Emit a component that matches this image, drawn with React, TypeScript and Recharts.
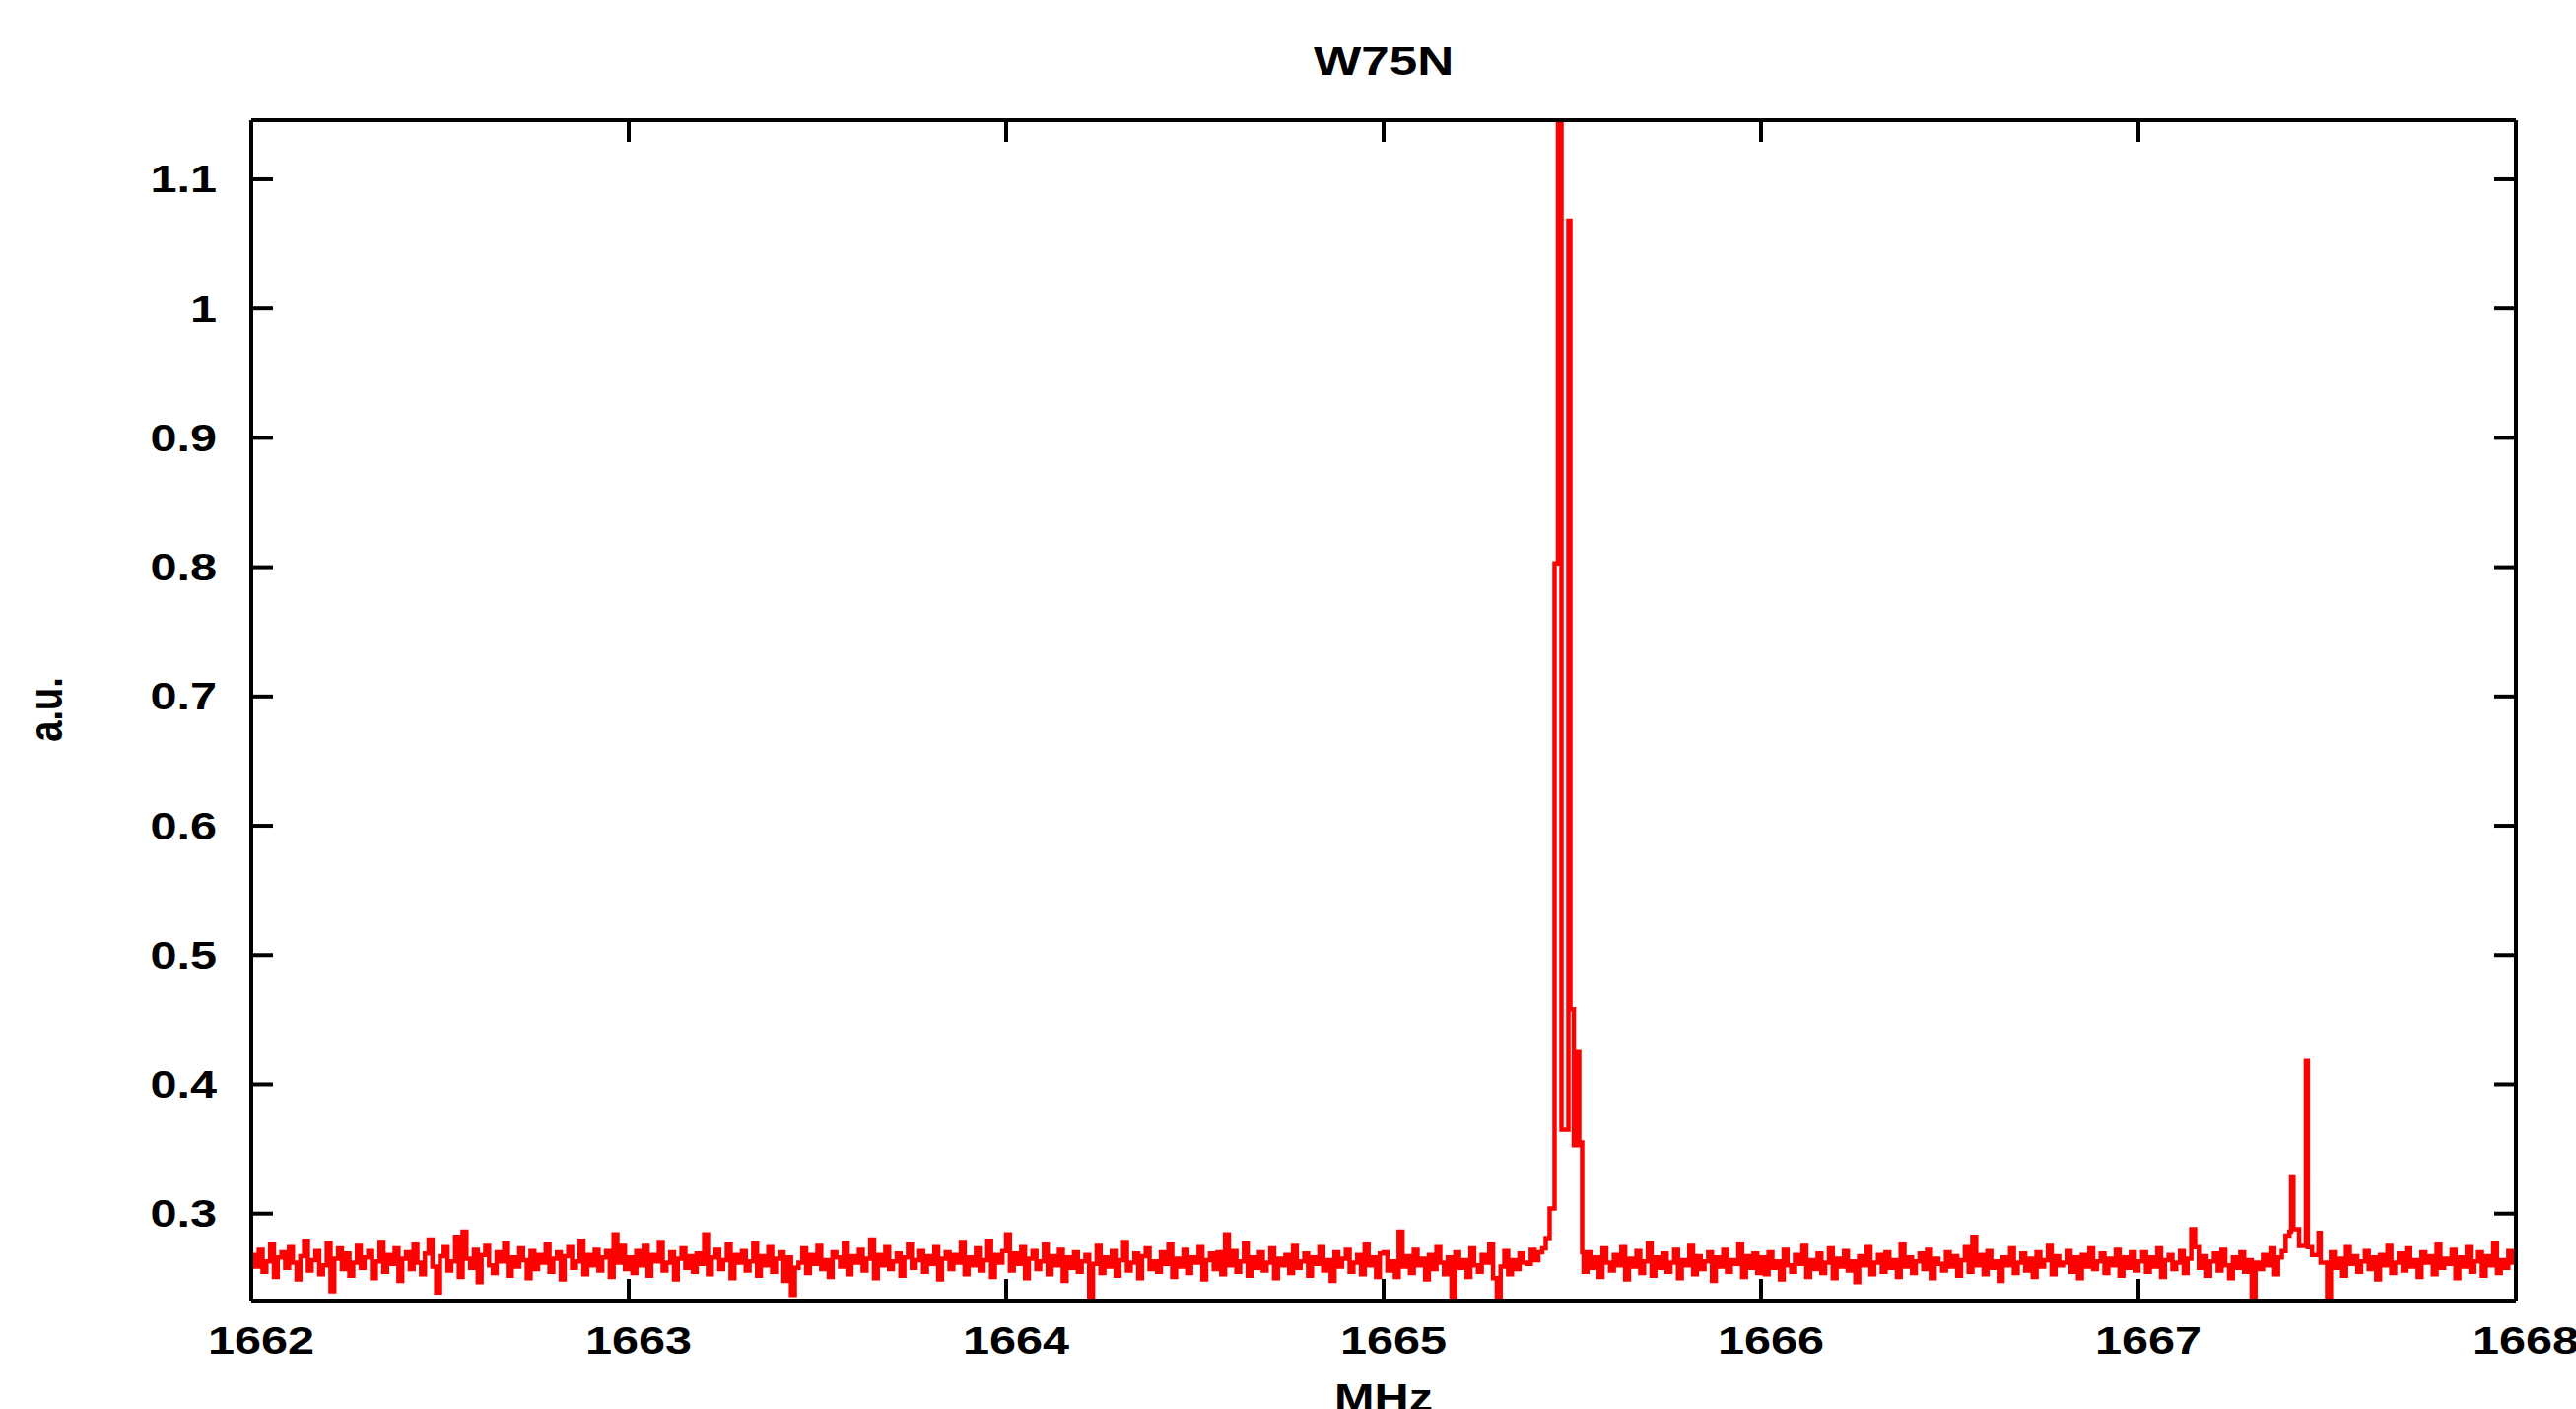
import { LineChart, Line, XAxis, YAxis } from 'recharts';

// OH spectrum of W75N, channels every 0.01 MHz starting at 1662 MHz (a.u.)
const startMHz = 1662;
const stepMHz = 0.01;

const seg1662 = [
  0.268, 0.259, 0.272, 0.255, 0.263, 0.276, 0.251, 0.266, 0.270, 0.258,
  0.274, 0.262, 0.249, 0.267, 0.279, 0.256, 0.264, 0.271, 0.253, 0.260,
  0.277, 0.240, 0.265, 0.273, 0.257, 0.269, 0.252, 0.262, 0.275, 0.258,
  0.266, 0.271, 0.250, 0.263, 0.278, 0.255, 0.268, 0.261, 0.273, 0.248,
  0.265, 0.270, 0.257, 0.276, 0.262, 0.253, 0.269, 0.280, 0.259, 0.239,
  0.267, 0.274, 0.256, 0.263, 0.282, 0.251, 0.286, 0.265, 0.258, 0.272,
  0.247, 0.268, 0.275, 0.260, 0.254, 0.270, 0.263, 0.277, 0.252, 0.266,
  0.259, 0.273, 0.264, 0.250, 0.271, 0.257, 0.268, 0.262, 0.276, 0.255,
  0.265, 0.270, 0.249, 0.267, 0.274, 0.258, 0.263, 0.279, 0.253, 0.268,
  0.260, 0.272, 0.256, 0.266, 0.271, 0.251, 0.284, 0.262, 0.275, 0.257,
];

const seg1663 = [
  0.266, 0.254, 0.271, 0.260, 0.275, 0.252, 0.268, 0.263, 0.278, 0.256,
  0.262, 0.270, 0.249, 0.265, 0.273, 0.258, 0.267, 0.255, 0.269, 0.261,
  0.284, 0.253, 0.266, 0.272, 0.257, 0.264, 0.276, 0.250, 0.268, 0.262,
  0.271, 0.256, 0.263, 0.277, 0.252, 0.267, 0.260, 0.274, 0.255, 0.265,
  0.270, 0.248, 0.266, 0.237, 0.258, 0.262, 0.273, 0.254, 0.268, 0.261,
  0.275, 0.257, 0.264, 0.251, 0.270, 0.266, 0.259, 0.277, 0.253, 0.267,
  0.262, 0.272, 0.256, 0.265, 0.280, 0.250, 0.268, 0.260, 0.274, 0.257,
  0.263, 0.269, 0.252, 0.266, 0.276, 0.258, 0.264, 0.271, 0.255, 0.267,
  0.261, 0.274, 0.249, 0.265, 0.270, 0.257, 0.268, 0.262, 0.278, 0.253,
  0.266, 0.260, 0.273, 0.256, 0.264, 0.279, 0.251, 0.268, 0.262, 0.271,
];

const seg1664 = [
  0.284, 0.256, 0.269, 0.261, 0.274, 0.250, 0.265, 0.271, 0.257, 0.263,
  0.276, 0.253, 0.267, 0.260, 0.272, 0.248, 0.266, 0.258, 0.270, 0.255,
  0.263, 0.268, 0.2327, 0.261, 0.275, 0.254, 0.266, 0.259, 0.271, 0.252,
  0.264, 0.278, 0.256, 0.262, 0.269, 0.250, 0.267, 0.273, 0.257, 0.263,
  0.255, 0.270, 0.261, 0.276, 0.251, 0.265, 0.259, 0.272, 0.254, 0.266,
  0.262, 0.274, 0.249, 0.264, 0.269, 0.257, 0.270, 0.253, 0.284, 0.260,
  0.271, 0.255, 0.263, 0.277, 0.252, 0.266, 0.258, 0.270, 0.256, 0.262,
  0.273, 0.250, 0.265, 0.260, 0.268, 0.254, 0.275, 0.258, 0.263, 0.269,
  0.252, 0.266, 0.261, 0.274, 0.256, 0.264, 0.248, 0.270, 0.259, 0.265,
  0.272, 0.255, 0.262, 0.268, 0.253, 0.276, 0.260, 0.266, 0.251, 0.269,
];

const seg1665 = [
  0.270, 0.256, 0.263, 0.251, 0.286, 0.259, 0.267, 0.254, 0.272, 0.260,
  0.265, 0.249, 0.268, 0.257, 0.274, 0.262, 0.253, 0.266, 0.236, 0.270,
  0.258, 0.264, 0.251, 0.273, 0.260, 0.255, 0.268, 0.262, 0.276, 0.250,
  0.2354, 0.259, 0.271, 0.253, 0.264, 0.257, 0.269, 0.262, 0.261, 0.272,
  0.264, 0.270, 0.262, 0.258, 0.266, 0.261, 0.263, 0.257, 0.268, 0.260,
  0.265, 0.259, 0.262, 0.255, 0.270, 0.258, 0.266, 0.251, 0.273, 0.262,
  0.256, 0.268, 0.260, 0.274, 0.249, 0.265, 0.259, 0.271, 0.254, 0.263,
  0.277, 0.252, 0.266, 0.258, 0.269, 0.255, 0.262, 0.272, 0.250, 0.264,
  0.260, 0.275, 0.253, 0.267, 0.257, 0.263, 0.270, 0.248, 0.266, 0.259,
  0.272, 0.255, 0.264, 0.261, 0.276, 0.251, 0.267, 0.258, 0.269, 0.254,
];

const seg1666 = [
  0.266, 0.253, 0.270, 0.258, 0.263, 0.249, 0.272, 0.260, 0.255, 0.268,
  0.261, 0.275, 0.251, 0.264, 0.257, 0.269, 0.254, 0.262, 0.273, 0.250,
  0.265, 0.259, 0.271, 0.256, 0.263, 0.247, 0.267, 0.260, 0.274, 0.253,
  0.262, 0.268, 0.255, 0.270, 0.258, 0.264, 0.251, 0.276, 0.259, 0.266,
  0.254, 0.263, 0.269, 0.257, 0.272, 0.250, 0.265, 0.261, 0.256, 0.270,
  0.259, 0.267, 0.252, 0.264, 0.274, 0.255, 0.282, 0.260, 0.268, 0.253,
  0.271, 0.258, 0.263, 0.248, 0.266, 0.260, 0.273, 0.254, 0.262, 0.269,
  0.256, 0.265, 0.251, 0.270, 0.259, 0.264, 0.275, 0.253, 0.267, 0.260,
  0.262, 0.271, 0.255, 0.266, 0.250, 0.268, 0.259, 0.273, 0.257, 0.263,
  0.269, 0.254, 0.265, 0.260, 0.272, 0.252, 0.266, 0.258, 0.270, 0.256,
];

const seg1667 = [
  0.263, 0.270, 0.255, 0.266, 0.259, 0.273, 0.251, 0.264, 0.268, 0.257,
  0.262, 0.271, 0.254, 0.265, 0.288, 0.274, 0.258, 0.267, 0.252, 0.263,
  0.269, 0.256, 0.272, 0.260, 0.250, 0.266, 0.258, 0.270, 0.255, 0.264,
  0.234, 0.262, 0.257, 0.268, 0.260, 0.273, 0.253, 0.266, 0.271, 0.283,
  0.264, 0.258, 0.266, 0.261, 0.263, 0.257, 0.268, 0.260, 0.265, 0.262,
  0.234, 0.270, 0.258, 0.265, 0.252, 0.274, 0.261, 0.267, 0.255, 0.263,
  0.271, 0.257, 0.266, 0.249, 0.268, 0.260, 0.275, 0.254, 0.262, 0.269,
  0.256, 0.273, 0.259, 0.264, 0.251, 0.270, 0.262, 0.267, 0.253, 0.276,
  0.258, 0.265, 0.261, 0.272, 0.250, 0.266, 0.259, 0.274, 0.255, 0.263,
  0.270, 0.252, 0.267, 0.260, 0.277, 0.254, 0.264, 0.258, 0.271, 0.262,
];

const end1668 = 0.266;

// finer structure of the two lines: [MHz where the step starts, a.u.]
const mainWindow = [1665.42, 1665.53];
const mainPeak = [
  [1665.4204, 0.273], [1665.4295, 0.281], [1665.4399, 0.304],
  [1665.453, 0.803], [1665.4621, 1.1457], [1665.4713, 0.365],
  [1665.4896, 1.068], [1665.4948, 0.458], [1665.5039, 0.353],
  [1665.5157, 0.425], [1665.5183, 0.355], [1665.5261, 0.27],
];

const satWindow = [1667.4, 1667.49];
const satPeak = [
  [1667.4, 0.286], [1667.4047, 0.328], [1667.4107, 0.288],
  [1667.4256, 0.275], [1667.4436, 0.418], [1667.4488, 0.274],
  [1667.46, 0.268], [1667.4773, 0.285], [1667.4828, 0.262],
];

const xTicks = [1662, 1663, 1664, 1665, 1666, 1667, 1668];
const yTicks = [0.3, 0.4, 0.5, 0.6, 0.7, 0.8, 0.9, 1, 1.1];
const yDomain = [0.2327, 1.1457];

const font = '"Liberation Sans", Arial, Helvetica, sans-serif';
const stretch = 1.28;
const tickLen = 22;
const labelGapX = 54; // frame bottom -> x label baseline
const labelGapY = 35; // frame left -> y label right edge

function buildData() {
  const base = [...seg1662, ...seg1663, ...seg1664, ...seg1665, ...seg1666, ...seg1667, end1668];
  const inside = (f: number, w: number[]) => f >= w[0] - 1e-6 && f < w[1] - 1e-6;
  const rows: { f: number; v: number }[] = [];
  base.forEach((v, i) => {
    const f = Math.round((startMHz + i * stepMHz) * 100) / 100;
    if (inside(f, mainWindow) || inside(f, satWindow)) return;
    rows.push({ f, v });
  });
  [...mainPeak, ...satPeak].forEach(([f, v]) => rows.push({ f, v }));
  return rows.sort((a, b) => a.f - b.f);
}

const data = buildData();

// gnuplot style: ticks point into the plot, labels sit outside
function XTick(props: any) {
  const { x, y, payload } = props;
  const frame = y - labelGapX;
  return (
    <g>
      <line x1={x} x2={x} y1={frame} y2={frame - tickLen} stroke="#000" strokeWidth={4} />
      <text
        transform={`translate(${x + 10},${y}) scale(${stretch},1)`}
        textAnchor="middle"
        fontSize={38}
        fontWeight="bold"
        fontFamily={font}
        fill="#000"
      >
        {payload.value}
      </text>
    </g>
  );
}

function YTick(props: any) {
  const { x, y, payload } = props;
  const frame = x + labelGapY;
  return (
    <g>
      <line x1={frame} x2={frame + tickLen} y1={y} y2={y} stroke="#000" strokeWidth={4} />
      <text
        transform={`translate(${x},${y + 13.5}) scale(${stretch},1)`}
        textAnchor="end"
        fontSize={38}
        fontWeight="bold"
        fontFamily={font}
        fill="#000"
      >
        {payload.value}
      </text>
    </g>
  );
}

function TopTick(props: any) {
  const { x, y } = props;
  return <line x1={x} x2={x} y1={y} y2={y + tickLen} stroke="#000" strokeWidth={4} />;
}

function RightTick(props: any) {
  const { x, y } = props;
  return <line x1={x} x2={x - tickLen} y1={y} y2={y} stroke="#000" strokeWidth={4} />;
}

const axisLine = { stroke: '#000', strokeWidth: 4 };

export default function App() {
  return (
    <div style={{ position: 'absolute', left: 0, top: 0, width: 2614, height: 1430, background: '#fff' }}>
      <LineChart
        width={2614}
        height={1430}
        data={data}
        margin={{ top: 121, right: 60, bottom: 0, left: 0 }}
      >
        <XAxis
          dataKey="f"
          type="number"
          domain={[1662, 1668]}
          ticks={xTicks}
          allowDataOverflow
          height={110}
          axisLine={axisLine}
          tickLine={false}
          tickSize={0}
          tickMargin={labelGapX}
          tick={<XTick />}
          interval={0}
        />
        <XAxis
          xAxisId="top"
          orientation="top"
          dataKey="f"
          type="number"
          domain={[1662, 1668]}
          ticks={xTicks}
          allowDataOverflow
          height={1}
          axisLine={axisLine}
          tickLine={false}
          tickSize={0}
          tickMargin={0}
          tick={<TopTick />}
          interval={0}
        />
        <YAxis
          dataKey="v"
          type="number"
          domain={yDomain}
          ticks={yTicks}
          allowDataOverflow
          width={255}
          axisLine={axisLine}
          tickLine={false}
          tickSize={0}
          tickMargin={labelGapY}
          tick={<YTick />}
          interval={0}
        />
        <YAxis
          yAxisId="right"
          orientation="right"
          dataKey="v"
          type="number"
          domain={yDomain}
          ticks={yTicks}
          allowDataOverflow
          width={1}
          axisLine={axisLine}
          tickLine={false}
          tickSize={0}
          tickMargin={0}
          tick={<RightTick />}
          interval={0}
        />
        <Line
          dataKey="v"
          type="stepAfter"
          stroke="#ff0000"
          strokeWidth={4.5}
          dot={false}
          activeDot={false}
          isAnimationActive={false}
        />
      </LineChart>
      <svg
        width={2614}
        height={1430}
        style={{ position: 'absolute', left: 0, top: 0, pointerEvents: 'none' }}
      >
        <text
          transform={`translate(1404,76) scale(${stretch},1)`}
          textAnchor="middle"
          fontSize={40}
          fontWeight="bold"
          fontFamily={font}
        >
          W75N
        </text>
        <text
          transform={`translate(1404,1432) scale(${stretch},1)`}
          textAnchor="middle"
          fontSize={38}
          fontWeight="bold"
          fontFamily={font}
        >
          MHz
        </text>
        <text
          transform={`translate(63,720) scale(${stretch},1) rotate(-90)`}
          textAnchor="middle"
          fontSize={38}
          fontWeight="bold"
          fontFamily={font}
        >
          a.u.
        </text>
      </svg>
    </div>
  );
}
